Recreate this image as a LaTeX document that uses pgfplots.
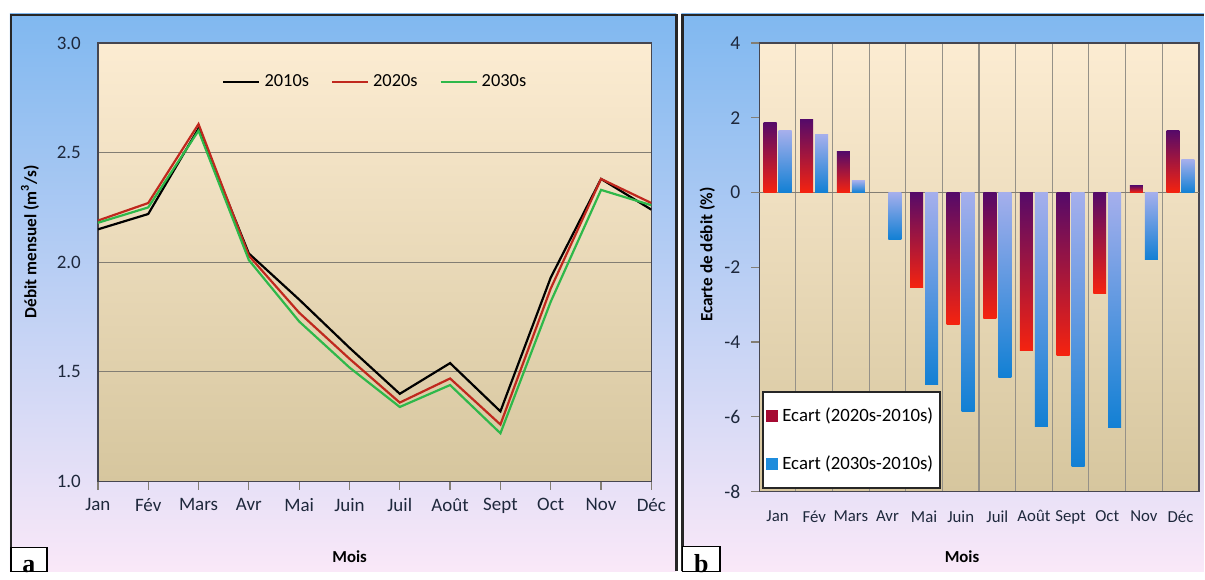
\documentclass[border=0pt]{standalone}
\usepackage{fontspec}
\setmainfont{Carlito}
\newfontfamily\serifb{Liberation Serif}
\usepackage{pgfplots}
\pgfplotsset{compat=1.18}
\definecolor{panelTop}{RGB}{128,184,240}
\definecolor{panelBot}{RGB}{250,232,248}
\definecolor{plotTop}{RGB}{252,236,210}
\definecolor{plotBot}{RGB}{214,198,158}
\definecolor{ticktxt}{RGB}{30,40,60}
\definecolor{frame}{RGB}{70,70,80}
\definecolor{gridc}{RGB}{130,125,115}
\definecolor{c2020}{RGB}{192,40,30}
\definecolor{c2030}{RGB}{46,184,74}
\definecolor{rTop}{RGB}{85,10,105}
\definecolor{rMid}{RGB}{175,10,75}
\definecolor{rBot}{RGB}{245,35,15}
\definecolor{bTop}{RGB}{165,175,236}
\definecolor{bMid}{RGB}{85,170,232}
\definecolor{bBot}{RGB}{18,128,212}
\definecolor{legRed}{RGB}{165,10,50}
\definecolor{legBlue}{RGB}{30,140,220}
\pgfplotsset{
  rbar/.style={ybar, bar width=6.5pt, bar shift=-3.75pt, draw=none,
    top color=rTop, middle color=rMid, bottom color=rBot, forget plot},
  bbar/.style={ybar, bar width=6.5pt, bar shift=3.75pt, draw=none,
    top color=bTop, middle color=bMid, bottom color=bBot, forget plot},
}
\begin{document}
\begin{tikzpicture}
\path[fill=white] (0,0) rectangle (602.5pt,-286pt);
% panels
\shade[top color=panelTop, bottom color=panelBot] (5pt,-7pt) rectangle (338.5pt,-286pt);
\draw[black!85, line width=1.2pt] (5.5pt,-286pt) -- (5.5pt,-7.5pt) -- (338.5pt,-7.5pt) -- (338.5pt,-286pt);
\shade[top color=panelTop, bottom color=panelBot] (341pt,-7pt) rectangle (602.5pt,-286pt);
\draw[black!85, line width=1.2pt] (341.5pt,-286pt) -- (341.5pt,-7.5pt) -- (602.5pt,-7.5pt);

% ---------- panel a ----------
\begin{axis}[
  at={(49pt,-241pt)}, anchor=south west,
  scale only axis, width=277pt, height=219.5pt,
  axis background/.style={top color=plotTop, bottom color=plotBot},
  xmin=0, xmax=11, ymin=1, ymax=3,
  xtick={0,...,11},
  xticklabels={Jan,Fév,Mars,Avr,Mai,Juin,Juil,Août,Sept,Oct,Nov,Déc},
  ytick={1,1.5,2,2.5,3},
  xtick pos=bottom, ytick pos=left,
  /pgf/number format/assume math mode=true,
  /pgf/number format/fixed, /pgf/number format/fixed zerofill, /pgf/number format/precision=1,
  ymajorgrids, major grid style={gridc, line width=0.6pt},
  tick align=outside, major tick length=4pt,
  xtick style={gridc, line width=0.6pt},
  ytick style={draw=none},
  axis line style={frame, line width=0.7pt},
  tick label style={font=\fontsize{9.5}{11}\selectfont, text=ticktxt},
  xticklabel style={yshift=-1pt},
  yticklabel style={xshift=-1pt},
  legend columns=3,
  legend style={at={(0.503,0.911)}, anchor=center, draw=none, fill=none,
    font=\fontsize{9.2}{11}\selectfont,
    /tikz/every even column/.append style={column sep=9pt}},
  legend image code/.code={\draw[#1] (0pt,0pt) -- (18pt,0pt);},
]
\addplot[black, line width=1.1pt] coordinates {
(0,2.15) (1,2.22) (2,2.61) (3,2.04) (4,1.83) (5,1.61) (6,1.40) (7,1.54) (8,1.32) (9,1.93) (10,2.38) (11,2.24)};
\addlegendentry{2010s}
\addplot[c2020, line width=1.1pt] coordinates {
(0,2.19) (1,2.27) (2,2.63) (3,2.03) (4,1.77) (5,1.56) (6,1.36) (7,1.47) (8,1.26) (9,1.88) (10,2.38) (11,2.27)};
\addlegendentry{2020s}
\addplot[c2030, line width=1.1pt] coordinates {
(0,2.18) (1,2.25) (2,2.60) (3,2.01) (4,1.73) (5,1.52) (6,1.34) (7,1.44) (8,1.22) (9,1.82) (10,2.33) (11,2.26)};
\addlegendentry{2030s}
\end{axis}

% ---------- panel b ----------
\begin{axis}[
  at={(380pt,-246pt)}, anchor=south west,
  scale only axis, width=220pt, height=224.5pt,
  axis background/.style={top color=plotTop, bottom color=plotBot},
  xmin=-0.5, xmax=11.5, ymin=-8, ymax=4,
  xtick={0,...,11},
  xticklabels={Jan,Fév,Mars,Avr,Mai,Juin,Juil,Août,Sept,Oct,Nov,Déc},
  minor xtick={-0.5,0.5,...,11.5},
  xminorgrids, minor grid style={gridc!85, line width=0.55pt},
  xtick style={draw=none},
  ytick={-8,-6,...,4},
  xtick pos=bottom, ytick pos=left,
  /pgf/number format/assume math mode=true,
  tick align=outside, major tick length=4pt,
  ytick style={gridc, line width=0.6pt},
  axis line style={frame, line width=0.7pt},
  tick label style={text=ticktxt},
  yticklabel style={font=\fontsize{9.8}{11}\selectfont, xshift=-2pt},
  xticklabel style={font=\fontsize{8.4}{10}\selectfont, yshift=-2pt},
  legend cell align=left,
  legend style={at={(0.007,0.006)}, anchor=south west, draw=black!85, line width=1pt,
    fill=white, font=\fontsize{9.4}{11}\selectfont, row sep=12pt, inner xsep=1.5pt, inner ysep=5.5pt},
]
\draw[gridc, line width=0.7pt] (axis cs:-0.5,0) -- (axis cs:11.5,0);
% Ecart (2020s-2010s)
\addplot[rbar] coordinates {(0,1.88)};
\addplot[rbar] coordinates {(1,1.95)};
\addplot[rbar] coordinates {(2,1.09)};
\addplot[rbar] coordinates {(4,-2.55)};
\addplot[rbar] coordinates {(5,-3.53)};
\addplot[rbar] coordinates {(6,-3.36)};
\addplot[rbar] coordinates {(7,-4.24)};
\addplot[rbar] coordinates {(8,-4.35)};
\addplot[rbar] coordinates {(9,-2.69)};
\addplot[rbar] coordinates {(10,0.19)};
\addplot[rbar] coordinates {(11,1.67)};
% Ecart (2030s-2010s)
\addplot[bbar] coordinates {(0,1.65)};
\addplot[bbar] coordinates {(1,1.55)};
\addplot[bbar] coordinates {(2,0.32)};
\addplot[bbar] coordinates {(3,-1.25)};
\addplot[bbar] coordinates {(4,-5.15)};
\addplot[bbar] coordinates {(5,-5.85)};
\addplot[bbar] coordinates {(6,-4.94)};
\addplot[bbar] coordinates {(7,-6.25)};
\addplot[bbar] coordinates {(8,-7.34)};
\addplot[bbar] coordinates {(9,-6.30)};
\addplot[bbar] coordinates {(10,-1.79)};
\addplot[bbar] coordinates {(11,0.88)};
\addlegendimage{legend image code/.code={\fill[legRed] (0pt,-2.5pt) rectangle (5pt,2.5pt);}}
\addlegendentry{Ecart (2020s-2010s)}
\addlegendimage{legend image code/.code={\fill[legBlue] (0pt,-2.5pt) rectangle (5pt,2.5pt);}}
\addlegendentry{Ecart (2030s-2010s)}
\end{axis}

% labels
\node[rotate=90, font=\bfseries\fontsize{8.6}{10}\selectfont] at (15pt,-121pt) {Débit mensuel (m\textsuperscript{3}/s)};
\node[font=\bfseries\fontsize{8.4}{10}\selectfont] at (175pt,-278.5pt) {Mois};
\node[rotate=90, font=\bfseries\fontsize{8.6}{10}\selectfont] at (354pt,-127.5pt) {Ecarte de débit (\%)};
\node[font=\bfseries\fontsize{8.4}{10}\selectfont] at (481.5pt,-278.5pt) {Mois};
\draw[draw=black, fill=white, line width=0.8pt] (5.5pt,-286pt) rectangle (23.5pt,-274pt);
\node[font=\serifb\bfseries\fontsize{13}{13}\selectfont, anchor=base] at (14.5pt,-286.5pt) {a};
\draw[draw=black, fill=white, line width=0.8pt] (341.5pt,-286pt) rectangle (360.5pt,-273.5pt);
\node[font=\serifb\bfseries\fontsize{13}{13}\selectfont, anchor=base] at (351pt,-286.5pt) {b};
\path (0,0) rectangle (602.5pt,-286pt);
\end{tikzpicture}
\end{document}
